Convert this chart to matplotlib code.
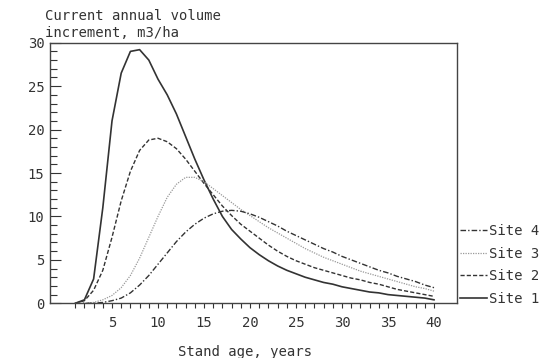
import numpy as np
import matplotlib
matplotlib.use("Agg")
import matplotlib.pyplot as plt
from matplotlib.ticker import MultipleLocator, FixedLocator

plt.rcParams['font.family'] = ['DejaVu Sans Mono']

# Stand age (years) and current annual volume increment (m3/ha) per site
age = np.arange(1, 41)
site1 = [0.0, 0.4, 2.8, 11.0, 21.0, 26.5, 29.0, 29.2, 28.0, 25.8,
         24.0, 21.8, 19.2, 16.6, 14.2, 12.0, 10.0, 8.5, 7.4, 6.4,
         5.6, 4.9, 4.3, 3.8, 3.4, 3.0, 2.7, 2.4, 2.2, 1.9,
         1.7, 1.5, 1.3, 1.2, 1.0, 0.9, 0.8, 0.7, 0.6, 0.4]
site2 = [0.0, 0.3, 1.5, 3.8, 7.6, 11.8, 15.2, 17.6, 18.8, 19.0,
         18.6, 17.8, 16.6, 15.2, 13.8, 12.5, 11.2, 10.1, 9.1, 8.3,
         7.5, 6.7, 6.0, 5.4, 4.9, 4.5, 4.1, 3.8, 3.5, 3.2,
         2.9, 2.7, 2.4, 2.2, 1.9, 1.6, 1.4, 1.2, 1.0, 0.8]
site3 = [0.0, 0.0, 0.1, 0.4, 0.9, 1.8, 3.2, 5.2, 7.6, 10.0,
         12.2, 13.7, 14.5, 14.5, 14.0, 13.2, 12.4, 11.6, 10.8, 10.1,
         9.4, 8.7, 8.1, 7.5, 6.9, 6.3, 5.8, 5.3, 4.9, 4.5,
         4.1, 3.7, 3.4, 3.1, 2.8, 2.5, 2.2, 1.9, 1.7, 1.4]
site4 = [0.0, 0.0, 0.0, 0.1, 0.3, 0.6, 1.2, 2.1, 3.2, 4.5,
         5.8, 7.1, 8.2, 9.1, 9.8, 10.3, 10.6, 10.7, 10.6, 10.3,
         9.9, 9.4, 8.9, 8.3, 7.8, 7.3, 6.8, 6.3, 5.9, 5.4,
         5.0, 4.6, 4.2, 3.8, 3.5, 3.1, 2.8, 2.5, 2.1, 1.8]

fig = plt.figure(figsize=(5.4, 3.58), dpi=100)
ax = fig.add_axes([0.0926, 0.1528, 0.7537, 0.7279])

dark = '#333333'
l1, = ax.plot(age, site1, color=dark, lw=1.2, ls='-', label='Site 1')
l2, = ax.plot(age, site2, color=dark, lw=1.0, ls=(0, (3, 1.5)), label='Site 2')
l3, = ax.plot(age, site3, color='#999999', lw=0.9, ls=(0, (1, 1)), label='Site 3')
l4, = ax.plot(age, site4, color=dark, lw=1.0, ls=(0, (4, 1.5, 1, 1.5)), label='Site 4')

ax.set_xlim(-1.74, 42.5)
ax.set_ylim(0, 30)

ax.xaxis.set_major_locator(FixedLocator(range(5, 41, 5)))
ax.xaxis.set_minor_locator(FixedLocator(range(1, 41)))
ax.yaxis.set_major_locator(MultipleLocator(5))
ax.yaxis.set_minor_locator(MultipleLocator(1))

ax.tick_params(axis='x', which='both', direction='out', length=3.5, width=0.8,
               color=dark, labelsize=10, labelcolor=dark, pad=6)
ax.tick_params(axis='y', which='major', direction='in', length=8, width=0.8,
               color=dark, labelsize=10, labelcolor=dark, pad=4)
ax.tick_params(axis='y', which='minor', direction='in', length=5, width=0.8, color=dark)

for s in ax.spines.values():
    s.set_color('#444444')
    s.set_linewidth(1.0)

fig.text(0.083, 0.955, 'Current annual volume', fontsize=10, color=dark,
         ha='left', va='center')
fig.text(0.083, 0.908, 'increment, m3/ha', fontsize=10, color=dark,
         ha='left', va='center')
fig.text(0.454, 0.017, 'Stand age, years', fontsize=10, color=dark,
         ha='center', va='center')

ax.legend(handles=[l4, l3, l2, l1], loc='lower left', bbox_to_anchor=(1.007, -0.01),
          frameon=False, fontsize=10, handlelength=1.95, handletextpad=0.15,
          borderpad=0, borderaxespad=0, labelspacing=0.62, labelcolor=dark)

fig.savefig('out.png', dpi=100)
